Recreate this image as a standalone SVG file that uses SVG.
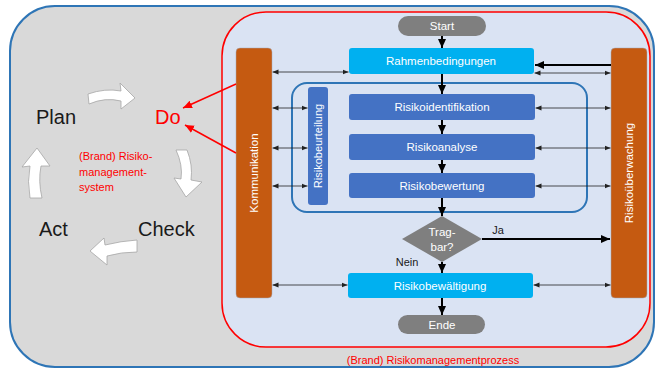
<svg xmlns="http://www.w3.org/2000/svg" width="655" height="371" viewBox="0 0 655 371">
<defs>
<style>
text{font-family:"Liberation Sans","Open Sans",Arial,sans-serif}
.w{fill:#fff;font-size:11.5px;text-anchor:middle}
.big{font-size:20px;fill:#1a1a1a}
.thin{stroke:#222;stroke-width:0.8;fill:none;marker-start:url(#ms);marker-end:url(#me)}
.thick{stroke:#000;stroke-width:2;fill:none;marker-end:url(#mb)}
.blk{fill:#fff;stroke:#a6a6a6;stroke-width:0.8}
.sys{font-size:11px;fill:#ff0000}
</style>
<marker id="me" markerUnits="userSpaceOnUse" markerWidth="8" markerHeight="6" refX="6" refY="3" orient="auto"><path d="M0,0.5 L6,3 L0,5.5 Z" fill="#222"/></marker>
<marker id="ms" markerUnits="userSpaceOnUse" markerWidth="8" markerHeight="6" refX="0" refY="3" orient="auto"><path d="M6,0.5 L0,3 L6,5.5 Z" fill="#222"/></marker>
<marker id="mb" markerUnits="userSpaceOnUse" markerWidth="10" markerHeight="10" refX="9" refY="5" orient="auto"><path d="M0,1 L9,5 L0,9 Z" fill="#000"/></marker>
<marker id="mr" markerUnits="userSpaceOnUse" markerWidth="10" markerHeight="10" refX="9" refY="5" orient="auto"><path d="M0,1 L9,5 L0,9 Z" fill="#f00"/></marker>
</defs>
<rect x="0" y="0" width="655" height="371" fill="#fff"/>
<g id="system">
<rect x="10" y="6" width="644" height="361" rx="45" fill="#d9d9d9" stroke="#2e75b6" stroke-width="2"/>
</g>
<g id="prozess">
<rect x="222" y="12" width="428" height="335" rx="44" fill="#dae3f3" stroke="#ff0000" stroke-width="1.5"/>
<text x="433" y="364" style="font-size:11px;fill:#ff0000;text-anchor:middle">(Brand) Risikomanagementprozess</text>
</g>
<g id="beurteilung-group">
<rect x="292" y="83" width="295" height="129" rx="15" fill="none" stroke="#2e75b6" stroke-width="2"/>
</g>
<g id="pdca">
<text x="36" y="124" class="big">Plan</text>
<text x="155" y="124" style="font-size:20px;fill:#ff0000">Do</text>
<text x="138" y="236" class="big">Check</text>
<text x="39" y="236" class="big">Act</text>
<text x="79" y="160" class="sys">(Brand) Risiko-</text>
<text x="79" y="176" class="sys">management-</text>
<text x="79" y="191" class="sys">system</text>
<path class="blk" d="M88,94 Q105,88 121,91 L120,83 L135,98 L121,109 L121,101 Q105,97 89,104 Z"/>
<path class="blk" d="M176,150 L187,150 Q193,165 191,180 L202,182 L186,197 L174,178 L181,179 Q183,165 176,150 Z"/>
<path class="blk" d="M137,240 L137,252 Q121,252 107,256 L107,265 L90,251 L104,238 L105,245 Q121,241 137,240 Z"/>
<path class="blk" d="M30,198 Q27,181 30,166 L22,167 L37,148 L50,166 L41,166 Q38,181 42,198 Z"/>
</g>
<g id="kommunikation">
<rect x="236" y="48" width="36" height="250" rx="4" fill="#c55a11" stroke="#a0a8b8" stroke-width="0.5"/>
<text class="w" transform="translate(258,173) rotate(-90)">Kommunikation</text>
</g>
<g id="ueberwachung">
<rect x="611" y="48" width="36" height="250" rx="4" fill="#c55a11" stroke="#a0a8b8" stroke-width="0.5"/>
<text class="w" transform="translate(633,173) rotate(-90)">Risikoüberwachung</text>
</g>
<g id="risikobeurteilung">
<rect x="308" y="87" width="20" height="118" rx="3" fill="#4472c4"/>
<text class="w" style="font-size:11px" transform="translate(322,146) rotate(-90)">Risikobeurteilung</text>
</g>
<g id="start">
<rect x="398" y="16" width="88" height="20" rx="10" fill="#7f7f7f"/>
<text class="w" x="442" y="30">Start</text>
</g>
<g id="rahmen">
<rect x="349" y="48" width="185" height="26" rx="3" fill="#00b0f0"/>
<text class="w" x="441" y="65">Rahmenbedingungen</text>
</g>
<g id="identifikation">
<rect x="349" y="94" width="186" height="26" rx="3" fill="#4472c4"/>
<text class="w" x="442" y="111">Risikoidentifikation</text>
</g>
<g id="analyse">
<rect x="349" y="134" width="186" height="26" rx="3" fill="#4472c4"/>
<text class="w" x="442" y="151">Risikoanalyse</text>
</g>
<g id="bewertung">
<rect x="349" y="173" width="186" height="25" rx="3" fill="#4472c4"/>
<text class="w" x="442" y="190">Risikobewertung</text>
</g>
<g id="tragbar">
<polygon points="442,216 482,239 442,262 402,239" fill="#7f7f7f"/>
<text class="w" x="442" y="236">Trag-</text>
<text class="w" x="442" y="251">bar?</text>
</g>
<g id="bewaeltigung">
<rect x="348" y="273" width="185" height="25" rx="3" fill="#00b0f0"/>
<text class="w" x="440" y="290">Risikobewältigung</text>
</g>
<g id="ende">
<rect x="398" y="315" width="87" height="19" rx="9.5" fill="#7f7f7f"/>
<text class="w" x="442" y="329">Ende</text>
</g>
<g id="connectors">
<path class="thick" d="M442,36 V48"/>
<path class="thick" d="M442,74 V94"/>
<path class="thick" d="M442,120 V134"/>
<path class="thick" d="M442,160 V173"/>
<path class="thick" d="M442,198 V216"/>
<path class="thick" d="M442,262 V273"/>
<path class="thick" d="M442,298 V315"/>
<path class="thick" d="M482,239 H610"/>
<path class="thick" d="M611,65 H535"/>
<path class="thin" d="M272.5,72 H348.5"/>
<path class="thin" d="M272.5,108 H307.5"/>
<path class="thin" d="M272.5,148 H307.5"/>
<path class="thin" d="M272.5,186 H307.5"/>
<path class="thin" d="M272.5,285 H347.5"/>
<path class="thin" d="M534.5,73 H610.5"/>
<path class="thin" d="M535.5,108 H610.5"/>
<path class="thin" d="M535.5,148 H610.5"/>
<path class="thin" d="M535.5,186 H610.5"/>
<path class="thin" d="M533.5,285 H610.5"/>
<path d="M236,84 L183,108" stroke="#f00" stroke-width="1.5" fill="none" marker-end="url(#mr)"/>
<path d="M236,153 L185,125" stroke="#f00" stroke-width="1.5" fill="none" marker-end="url(#mr)"/>
<text x="498" y="234" style="font-size:11px;fill:#1a1a1a;text-anchor:middle">Ja</text>
<text x="407" y="266" style="font-size:11px;fill:#1a1a1a;text-anchor:middle">Nein</text>
</g>
</svg>
